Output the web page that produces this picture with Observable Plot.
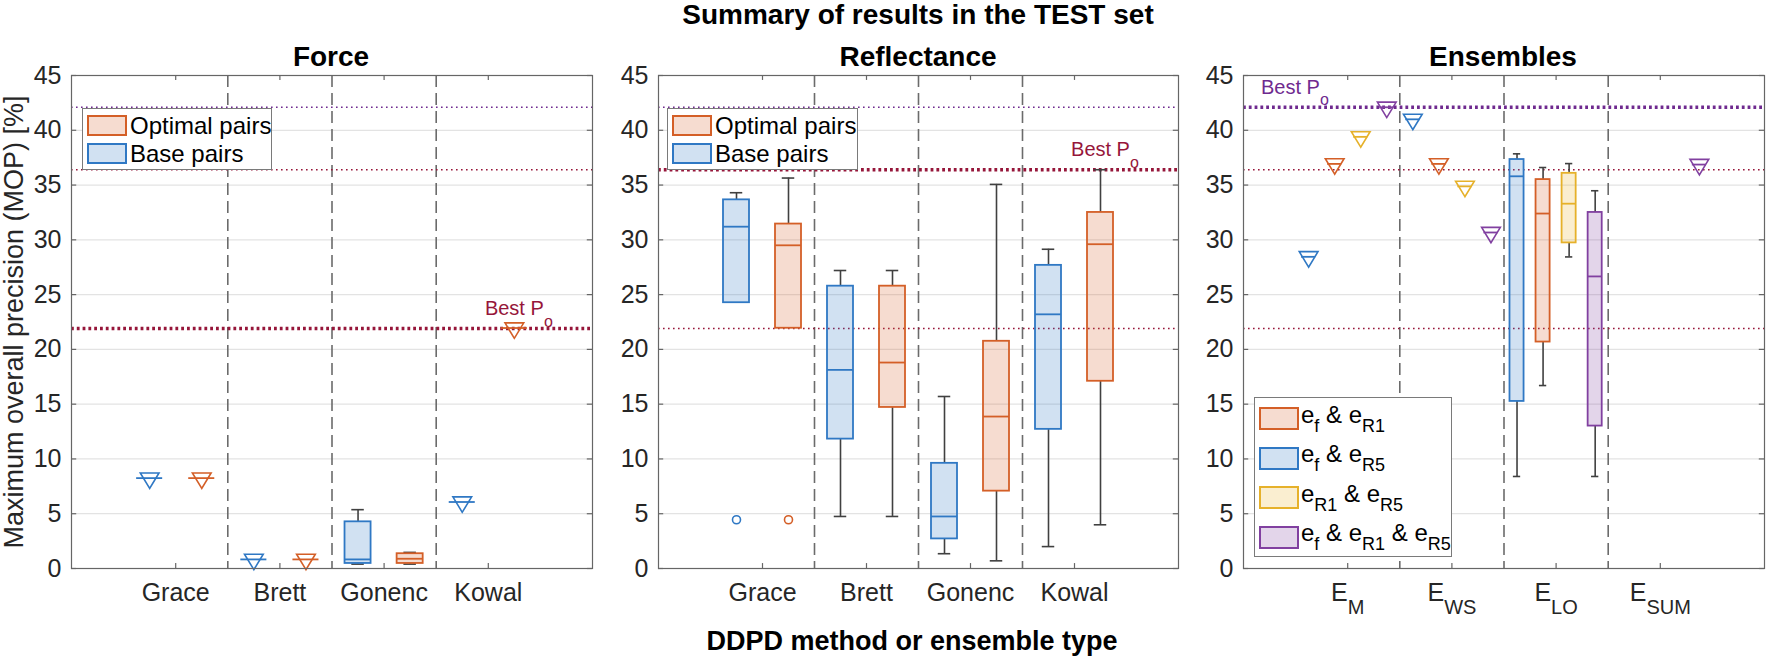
<!DOCTYPE html>
<html><head><meta charset="utf-8">
<script src="https://cdn.jsdelivr.net/npm/d3@7"></script>
<script src="https://cdn.jsdelivr.net/npm/@observablehq/plot@0.6"></script>
<style>
body{margin:0;background:#fff;font-family:'Liberation Sans',Arial,Helvetica,sans-serif;color:#262626}
#fig{position:relative;width:1772px;height:658px;overflow:hidden;background:#fff}
.abs{position:absolute}
.ttl{position:absolute;font-weight:bold;font-size:28px;line-height:28px;text-align:center;color:#000;white-space:nowrap}
.legend{position:absolute;background:#fff;border:1px solid #7a7a7a;box-sizing:border-box}
.sw{position:absolute;box-sizing:border-box;border:2px solid}
.lt{position:absolute;font-size:24px;line-height:24px;white-space:nowrap;color:#000}
.lt sub{font-size:18px;vertical-align:-9px;line-height:0}
svg{overflow:visible}
</style></head>
<body><div id="fig"></div>
<script>
// ---------------- data ----------------
const methods = ["Grace", "Brett", "Gonenc", "Kowal"];
const ensembleTypes = ["E_M", "E_WS", "E_LO", "E_SUM"];
const pairSeries = ["Base pairs", "Optimal pairs"];
const ensembleSeries = ["e_f & e_R5", "e_f & e_R1", "e_R1 & e_R5", "e_f & e_R1 & e_R5"];
const ensembleLegendOrder = ["e_f & e_R1", "e_f & e_R5", "e_R1 & e_R5", "e_f & e_R1 & e_R5"];
const yTicks = [0, 5, 10, 15, 20, 25, 30, 35, 40, 45];

// [whisker low, Q1, median, Q3, whisker high]; a single number = a single value
const forceBase = [8.25, 0.83, [0.40, 0.46, 0.83, 4.26, 5.37], 6.07];
const forceOptimal = [8.25, 0.83, [0.40, 0.46, 0.89, 1.35, 1.47], 21.95];
const reflectanceBase = [[24.26, 24.26, 31.2, 33.65, 34.3], [4.75, 11.81, 18.13, 25.77, 27.2], [1.35, 2.7, 4.75, 9.6, 15.7], [2.0, 12.7, 23.2, 27.67, 29.14]];
const reflectanceOptimal = [[21.93, 21.93, 29.5, 31.44, 35.64], [4.75, 14.7, 18.8, 25.77, 27.2], [0.7, 7.06, 13.87, 20.74, 35.06], [3.99, 17.09, 29.6, 32.5, 36.4]];
const reflectanceBaseOutliers = [[4.45], [], [], []];
const reflectanceOptimalOutliers = [[4.45], [], [], []];
const ensFR5 = [28.45, 41.0, [8.4, 15.25, 35.8, 37.33, 37.85], null];
const ensFR1 = [36.93, 36.93, [16.7, 20.67, 32.4, 35.5, 36.6], null];
const ensR1R5 = [39.4, 34.88, [28.44, 29.72, 33.3, 36.07, 36.96], null];
const ensFR1R5 = [42.1, 30.67, [8.4, 13.0, 26.66, 32.5, 34.48], 36.87];
const bestValues = [21.9, 36.4, 42.1]; // best P_o : Force, Reflectance, Ensembles

// ---------------- styles ----------------
const C = {blue: "#2f78c4", orange: "#d45f27", yellow: "#e6b12a", purple: "#8140a0"};
const RED = "#96163a", PURPLE_LINE = "#6f2a8f";
const bestColors = [RED, RED, PURPLE_LINE];
const FONT = "'Liberation Sans', Arial, Helvetica, sans-serif";

const triDown = {
  draw(ctx, size) {
    const k = Math.sqrt(size);
    ctx.moveTo(0, 0.88 * k);
    ctx.lineTo(-0.8 * k, -0.44 * k);
    ctx.lineTo(0.8 * k, -0.44 * k);
    ctx.closePath();
  }
};

function buildRows(series) {
  const boxes = [], singles = [], outs = [];
  series.forEach(s => {
    s.values.forEach((v, i) => {
      if (v == null) return;
      const x = i + 1 + s.offset;
      if (Array.isArray(v)) {
        boxes.push({x, lo: v[0], q1: v[1], med: v[2], q3: v[3], hi: v[4], color: s.color});
      } else {
        singles.push({x, med: v, color: s.color});
      }
      if (s.outliers) s.outliers[i].forEach(o => outs.push({x, y: o, color: s.color}));
    });
  });
  return {boxes, singles, outs};
}

function panel({width, marginLeft, marginRight, series, boxW, capW, labels, bestIndex, labelX}) {
  const {boxes, singles, outs} = buildRows(series);
  const lines = bestValues.map((v, i) => ({v, color: bestColors[i], i}));
  const gray = "#404040";
  const axisC = "#666";
  const med = boxes.concat(singles);
  const best = [{x: labelX, y: bestValues[bestIndex]}];
  const svg = Plot.plot({
    width, height: 658, marginTop: 75, marginBottom: 90, marginLeft, marginRight,
    style: {fontFamily: FONT, fontSize: "25px", color: "#262626", background: "transparent", overflow: "visible"},
    x: {domain: [0, 5], axis: null},
    y: {domain: [0, 45], axis: null},
    color: {type: "identity"},
    marks: [
      Plot.ruleY(yTicks.slice(1, -1), {stroke: "#e3e3e3", strokeWidth: 1.2}),
      Plot.ruleX([1.5, 2.5, 3.5], {stroke: "#6b6b6b", strokeWidth: 1.6, strokeDasharray: "12,6"}),
      Plot.ruleY(lines.filter(d => d.i !== bestIndex), {y: "v", stroke: "color", strokeWidth: 1.6, strokeDasharray: "1.6,3.4"}),
      Plot.ruleY(lines.filter(d => d.i === bestIndex), {y: "v", stroke: "color", strokeWidth: 3.4, strokeDasharray: "2.8,3"}),
      Plot.ruleX(boxes.filter(d => d.lo < d.q1), {x: "x", y1: "lo", y2: "q1", stroke: gray, strokeWidth: 1.6}),
      Plot.ruleX(boxes.filter(d => d.hi > d.q3), {x: "x", y1: "q3", y2: "hi", stroke: gray, strokeWidth: 1.6}),
      Plot.ruleY(boxes.filter(d => d.lo < d.q1), {y: "lo", x1: d => d.x - capW / 2, x2: d => d.x + capW / 2, stroke: gray, strokeWidth: 1.6}),
      Plot.ruleY(boxes.filter(d => d.hi > d.q3), {y: "hi", x1: d => d.x - capW / 2, x2: d => d.x + capW / 2, stroke: gray, strokeWidth: 1.6}),
      Plot.rect(boxes, {x1: d => d.x - boxW / 2, x2: d => d.x + boxW / 2, y1: "q1", y2: "q3", fill: "color", fillOpacity: 0.22, stroke: "color", strokeWidth: 1.8}),
      Plot.ruleY(med, {y: "med", x1: d => d.x - boxW / 2, x2: d => d.x + boxW / 2, stroke: "color", strokeWidth: 1.8}),
      Plot.dot(singles, {x: "x", y: "med", symbol: triDown, r: 6.6, stroke: "color", fill: "none", strokeWidth: 1.6}),
      Plot.dot(outs, {x: "x", y: "y", r: 4, stroke: "color", fill: "none", strokeWidth: 1.6}),
      Plot.text(best, {x: "x", y: "y", text: () => "Best P", dy: -20, fill: bestColors[bestIndex], fontSize: 20}),
      Plot.text(best, {x: "x", y: "y", text: () => "o", dx: 34, dy: -7, fill: bestColors[bestIndex], fontSize: 16}),
      Plot.frame({stroke: axisC, strokeWidth: 1.2}),
      Plot.ruleY(yTicks, {y: d => d, x1: () => 0, x2: () => 0.05, stroke: axisC, strokeWidth: 1.2}),
      Plot.ruleY(yTicks, {y: d => d, x1: () => 4.95, x2: () => 5, stroke: axisC, strokeWidth: 1.2}),
      Plot.ruleX([1, 2, 3, 4], {x: d => d, y1: () => 0, y2: () => 0.45, stroke: axisC, strokeWidth: 1.2}),
      Plot.ruleX([1, 2, 3, 4], {x: d => d, y1: () => 44.55, y2: () => 45, stroke: axisC, strokeWidth: 1.2}),
      Plot.axisY({ticks: yTicks, tickSize: 0, tickPadding: 10, label: null, tickFormat: d3.format("d")}),
      Plot.axisX({ticks: [1, 2, 3, 4], tickSize: 0, tickPadding: 15, label: null, tickFormat: i => labels[i - 1]})
    ]
  });
  d3.select(svg).selectAll("text").each(function () {
    const s = this.textContent;
    const k = s.indexOf("_");
    if (k < 0 || this.querySelector("tspan tspan")) return;
    const el = d3.select(this);
    el.text(null);
    el.append("tspan").text(s.slice(0, k));
    el.append("tspan").attr("font-size", 20).attr("dy", 13).text(s.slice(k + 1));
  });
  return svg;
}

const fig = document.getElementById("fig");
function place(node, left, top) {
  node.style.position = "absolute";
  node.style.left = left + "px";
  node.style.top = top + "px";
  fig.appendChild(node);
}

const pairOffsets = [-0.25, 0.25];
const pairColors = [C.blue, C.orange];
const ensOffsets = [-0.375, -0.125, 0.125, 0.375];
const ensColors = [C.blue, C.orange, C.yellow, C.purple];

place(panel({
  width: 600, marginLeft: 71, marginRight: 8, boxW: 0.25, capW: 0.12, labels: methods, bestIndex: 0, labelX: 4.25,
  series: [
    {values: forceBase, color: pairColors[0], offset: pairOffsets[0]},
    {values: forceOptimal, color: pairColors[1], offset: pairOffsets[1]}
  ]
}), 0, 0);

place(panel({
  width: 580, marginLeft: 58, marginRight: 2, boxW: 0.25, capW: 0.12, labels: methods, bestIndex: 1, labelX: 4.25,
  series: [
    {values: reflectanceBase, outliers: reflectanceBaseOutliers, color: pairColors[0], offset: pairOffsets[0]},
    {values: reflectanceOptimal, outliers: reflectanceOptimalOutliers, color: pairColors[1], offset: pairOffsets[1]}
  ]
}), 600, 0);

place(panel({
  width: 592, marginLeft: 63, marginRight: 8, boxW: 0.135, capW: 0.07, labels: ensembleTypes, bestIndex: 2, labelX: 0.45,
  series: [
    {values: ensFR5, color: ensColors[0], offset: ensOffsets[0]},
    {values: ensFR1, color: ensColors[1], offset: ensOffsets[1]},
    {values: ensR1R5, color: ensColors[2], offset: ensOffsets[2]},
    {values: ensFR1R5, color: ensColors[3], offset: ensOffsets[3]}
  ]
}), 1180, 0);

// ---------------- titles ----------------
function div(cls, html, css) {
  const d = document.createElement("div");
  d.className = cls;
  d.innerHTML = html;
  Object.assign(d.style, css);
  fig.appendChild(d);
  return d;
}
div("ttl", "Summary of results in the TEST set", {left: "518px", width: "800px", top: "1px"});
div("ttl", "Force", {left: "131px", width: "400px", top: "43px"});
div("ttl", "Reflectance", {left: "718px", width: "400px", top: "43px"});
div("ttl", "Ensembles", {left: "1303px", width: "400px", top: "43px"});
div("ttl", "DDPD method or ensemble type", {left: "512px", width: "800px", top: "627px", fontSize: "27px"});
div("ttl", "Maximum overall precision (MOP) [%]", {left: (14 - 300) + "px", width: "600px", top: (322 - 14) + "px", fontSize: "27px", fontWeight: "normal", color: "#262626", transform: "rotate(-90deg)"});

// ---------------- legends ----------------
function rgba(hex, a) {
  const c = d3.color(hex); c.opacity = a; return c.toString();
}
function sub(label) {
  return label.replace(/_([A-Za-z0-9]+)/g, "<sub>$1</sub>").replace(/&(?!amp;)/g, "&amp;");
}
function legend(x, y, w, h, items, pitch, swY, swH, textDx) {
  const L = div("legend", "", {left: x + "px", top: y + "px", width: w + "px", height: h + "px"});
  items.forEach((it, i) => {
    const s = document.createElement("div");
    s.className = "sw";
    Object.assign(s.style, {left: "4px", top: (swY + i * pitch) + "px", width: "40px", height: swH + "px", borderColor: it.color, background: rgba(it.color, 0.22)});
    L.appendChild(s);
    const t = document.createElement("div");
    t.className = "lt";
    t.innerHTML = it.label;
    Object.assign(t.style, {left: textDx + "px", top: (swY + i * pitch + swH / 2 - 12 + (it.shift || 0)) + "px"});
    L.appendChild(t);
  });
}
const pairLegend = [{label: pairSeries[1], color: pairColors[1]}, {label: pairSeries[0], color: pairColors[0]}];
legend(82, 108, 190, 62, pairLegend, 28, 6, 21, 47);
legend(667, 108, 191, 62, pairLegend, 28, 6, 21, 47);
legend(1254, 397, 198, 160, ensembleLegendOrder.map(l => ({label: sub(l), color: ensColors[ensembleSeries.indexOf(l)], shift: -4})), 39.5, 9, 23, 46);
</script>
</body></html>
